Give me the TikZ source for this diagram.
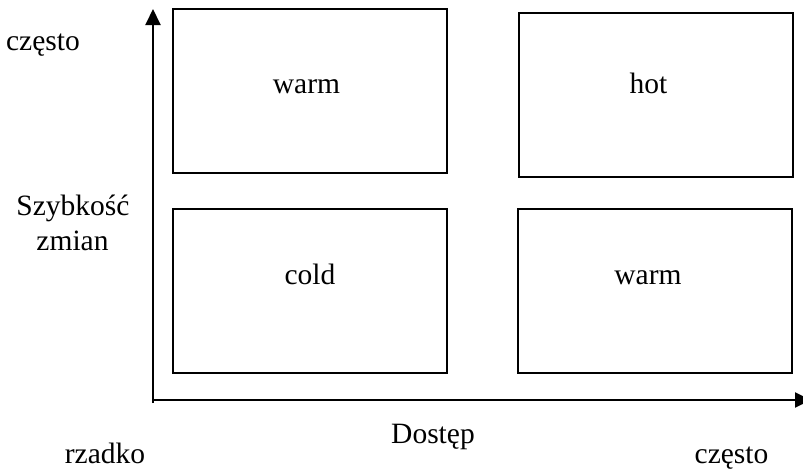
\documentclass[tikz,border=0pt]{standalone}
\usepackage{fontspec}
\setmainfont{Liberation Serif}
\usetikzlibrary{arrows.meta}
\begin{document}
\begin{tikzpicture}[x=1pt,y=-1pt,
  quad/.style={draw,line width=2pt,rectangle,minimum width=274pt,minimum height=164pt,inner sep=0pt},
  lbl/.style={font=\fontsize{29.5}{34}\selectfont,inner sep=0pt,anchor=base},
  axis/.style={line width=2pt,-{Triangle[length=16pt,width=15pt]}}]
\useasboundingbox (0,0) rectangle (803,469);
\fill[white] (0,0) rectangle (803,469);
% boxes
\node[quad] (tl) at (310,91) {};
\node[quad] (tr) at (655.5,94.5) {};
\node[quad] (bl) at (310,291) {};
\node[quad] (br) at (654.5,291) {};
% box labels
\node[lbl] (ltl) at (306.5,93) {warm};
\node[lbl] (ltr) at (648.5,93) {hot};
\node[lbl] (lbl1) at (310,284) {cold};
\node[lbl] (lbr) at (648,284) {warm};
% axes
\coordinate (o) at (153,403);
\coordinate (ox) at (153,400);
\coordinate (ytip) at (153,9);
\coordinate (xtip) at (811,400);
\draw[axis] (o) -- (ytip);
\draw[axis] (ox) -- (xtip);
% axis texts
\node[lbl] (yhi) at (43,50) {często};
\node[lbl] (ytitle1) at (73,215) {Szybkość};
\node[lbl] (ytitle2) at (72.5,250) {zmian};
\node[lbl] (xlo) at (105,463) {rzadko};
\node[lbl] (xtitle) at (433,443) {Dostęp};
\node[lbl] (xhi) at (731.5,463) {często};
\end{tikzpicture}
\end{document}
